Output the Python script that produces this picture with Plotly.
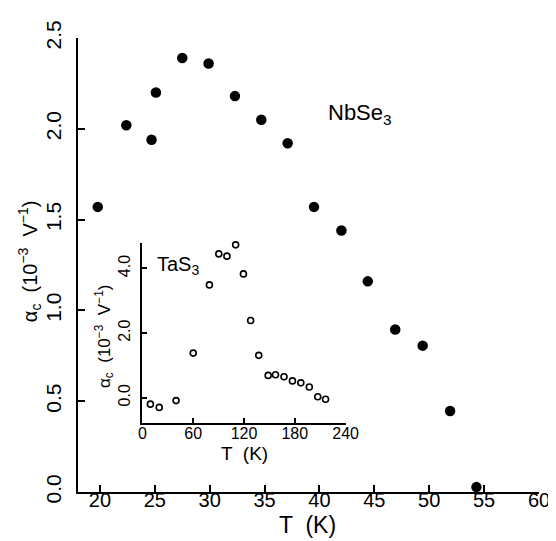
import plotly.graph_objects as go

# Main panel: NbSe3
nbse3_T = [19.8, 22.4, 24.7, 25.1, 27.5, 29.9, 32.3, 34.7, 37.1, 39.5, 42.0, 44.4, 46.9, 49.4, 51.9, 54.3]
nbse3_alpha = [1.57, 2.02, 1.94, 2.20, 2.39, 2.36, 2.18, 2.05, 1.92, 1.57, 1.44, 1.16, 0.895, 0.806, 0.446, 0.027]

# Inset: TaS3
tas3_T = [9.4, 19.8, 39.7, 60, 79.1, 90.2, 99.8, 110.1, 119.3, 127.8, 137.4, 148.5, 157.2, 167.2, 177.2, 187.1, 197.1, 207.1, 216.3]
tas3_alpha = [-0.20, -0.30, -0.09, 1.38, 3.49, 4.45, 4.38, 4.73, 3.83, 2.39, 1.31, 0.69, 0.71, 0.65, 0.52, 0.46, 0.33, 0.03, -0.05]

main_xticks = [20, 25, 30, 35, 40, 45, 50, 55, 60]
main_yticks = [0.0, 0.5, 1.0, 1.5, 2.0, 2.5]
inset_xticks = [0, 60, 120, 180, 240]
inset_yticks = [0.0, 2.0, 4.0]

FONT = "Liberation Sans"

fig = go.Figure()
fig.add_trace(go.Scatter(
    x=nbse3_T, y=nbse3_alpha, mode="markers",
    marker=dict(size=10.5, color="black"), cliponaxis=False, showlegend=False,
    xaxis="x", yaxis="y"))
fig.add_trace(go.Scatter(
    x=tas3_T, y=tas3_alpha, mode="markers",
    marker=dict(size=6, color="white", line=dict(color="black", width=1.6)),
    cliponaxis=False, showlegend=False, xaxis="x2", yaxis="y2"))

axis_common = dict(showgrid=False, zeroline=False, showline=True, linecolor="black",
                   ticks="inside", tickcolor="black", mirror=False)

fig.update_layout(
    width=556, height=541,
    margin=dict(l=70, r=14, t=28, b=57),
    paper_bgcolor="white", plot_bgcolor="white",
    font=dict(family=FONT, color="black"),
    xaxis=dict(**axis_common, range=[18, 60], tickvals=main_xticks,
               ticktext=[str(v) for v in main_xticks], linewidth=2, ticklen=7, tickwidth=1.5,
               tickfont=dict(size=20, family=FONT), ticklabelstandoff=-11, domain=[0, 1]),
    yaxis=dict(**axis_common, range=[0, 2.5], tickvals=main_yticks,
               ticktext=[f"{v:.1f}" for v in main_yticks], linewidth=2, ticklen=7, tickwidth=1.5,
               tickangle=-90, tickfont=dict(size=21, family=FONT), ticklabelstandoff=7, domain=[0, 1]),
    xaxis2=dict(**axis_common, range=[0, 240], tickvals=inset_xticks,
                ticktext=[str(v) for v in inset_xticks], linewidth=2, ticklen=5, tickwidth=1.5,
                tickfont=dict(size=16, family=FONT), ticklabelstandoff=-5,
                domain=[0.1398, 0.5805], anchor="y2"),
    yaxis2=dict(**axis_common, range=[-0.77, 4.78], tickvals=inset_yticks,
                ticktext=[f"{v:.1f}" for v in inset_yticks], linewidth=2, ticklen=5, tickwidth=1.5,
                tickangle=-90, tickfont=dict(size=16, family=FONT), ticklabelstandoff=4,
                domain=[0.1529, 0.548], anchor="x2"),
)

fig.add_annotation(text="T  (K)", xref="paper", yref="paper", x=(305 - 70) / 472, y=(484 - 517) / 456,
                   showarrow=False, font=dict(size=23, family=FONT), yanchor="middle", borderpad=0)
fig.add_annotation(text="α<sub>c</sub>  (10<sup>−3</sup>  V<sup>−1</sup>)", xref="paper", yref="paper",
                   x=(20 - 70) / 472, y=(484 - 252) / 456, textangle=-90, showarrow=False,
                   font=dict(size=20, family=FONT), xanchor="center", yanchor="middle")
fig.add_annotation(text="NbSe<sub>3</sub>", xref="x", yref="y", x=40.6, y=2.08,
                   showarrow=False, font=dict(size=22, family=FONT), xanchor="left")
fig.add_annotation(text="TaS<sub>3</sub>", xref="x2", yref="y2", x=14.5, y=4.1,
                   showarrow=False, font=dict(size=20, family=FONT), xanchor="left")
fig.add_annotation(text="T  (K)", xref="x2", yref="paper", x=120, y=(484 - 445) / 456,
                   showarrow=False, font=dict(size=19, family=FONT), yanchor="middle")
fig.add_annotation(text="α<sub>c</sub>  (10<sup>−3</sup>  V<sup>−1</sup>)", xref="paper", yref="y2",
                   x=(97 - 70) / 472, y=1.89, textangle=-90, showarrow=False,
                   font=dict(size=17, family=FONT), xanchor="center", yanchor="middle")

fig.write_html("out.html")
